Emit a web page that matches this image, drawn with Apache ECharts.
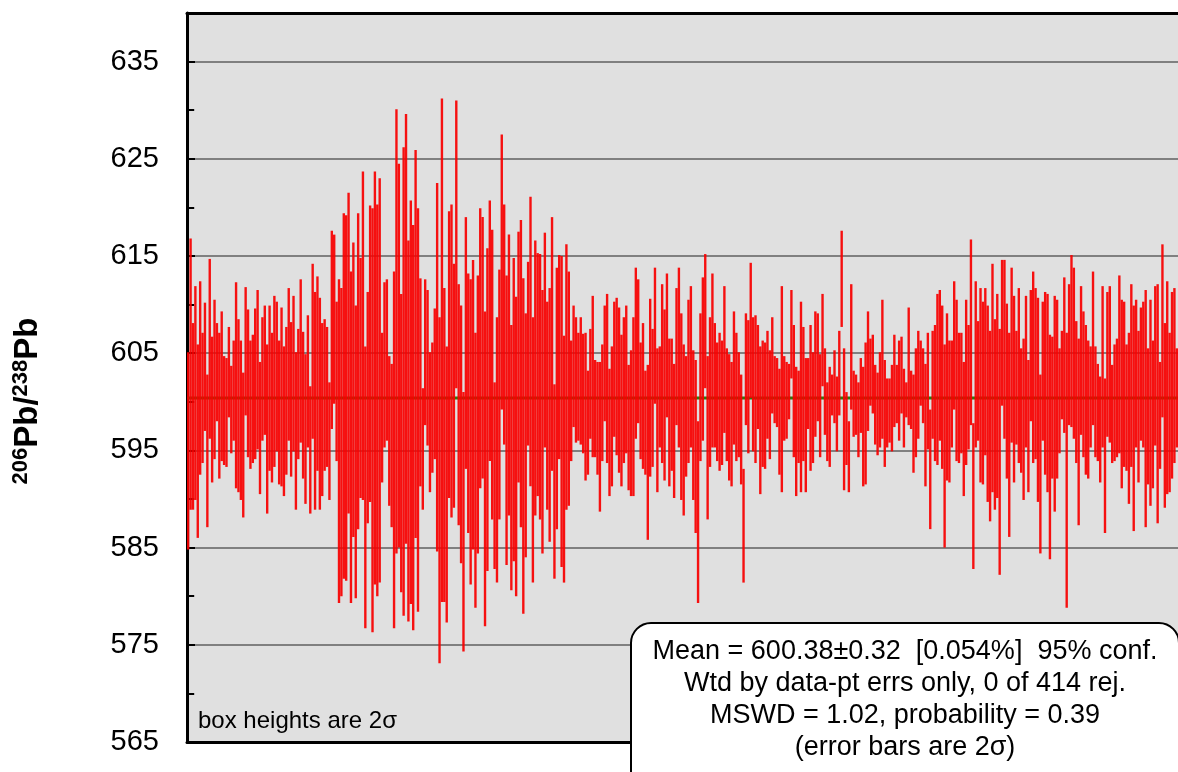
<!DOCTYPE html>
<html><head><meta charset="utf-8">
<script src="https://cdn.jsdelivr.net/npm/echarts/dist/echarts.min.js"></script>
<style>html,body{margin:0;padding:0;background:#fff}#chart{width:1178px;height:772px}</style>
</head><body><div id="chart"></div>
<script>
// Upper edge of each 2-sigma error box (206Pb/238Pb age, Ma)
const boxTop = [
605.1,616.8,608.1,611.9,605.9,612.4,607.1,610.2,602.8,614.7,
606.7,610.5,608.1,607.1,609.3,604.7,604.5,607.7,603.7,606.3,
612.3,608.5,606.3,603.0,611.8,609.5,606.3,606.9,609.6,611.5,
604.1,608.7,609.9,605.9,609.9,607.1,610.9,610.3,606.3,609.7,
605.7,607.7,611.7,608.2,610.9,605.1,607.5,612.6,607.2,604.9,
608.9,601.6,614.2,611.3,612.9,610.7,608.1,608.5,607.7,602.0,
617.6,617.2,610.3,612.6,611.7,619.4,619.2,621.5,613.4,616.4,
609.9,619.4,614.8,623.7,605.7,611.3,620.2,619.9,623.7,620.3,
623.0,607.1,
612.3,612.6,604.7,603.9,613.4,630.1,624.5,611.1,626.2,629.6,
616.6,620.7,618.2,625.9,619.9,612.7,601.4,612.6,611.5,605.1,
606.1,609.6,622.5,608.7,631.2,611.7,605.7,619.6,620.3,614.2,
631.0,612.1,609.9,601.0,619.0,613.2,612.6,614.6,607.1,613.0,
619.9,619.0,609.3,615.8,620.7,617.7,602.0,608.7,613.6,627.5,
620.3,613.0,617.2,607.9,614.8,610.8,617.5,618.7,612.7,609.1,
614.4,621.1,608.7,616.6,615.3,615.2,611.5,617.4,610.3,611.7,
619.0,601.8,613.8,615.1,615.0,606.8,616.2,613.4,606.3,609.9,
608.7,607.1,
608.7,607.0,607.1,603.2,607.5,610.9,604.3,604.1,604.1,605.9,
609.9,611.1,603.4,605.7,610.3,610.7,609.7,606.9,608.7,609.9,
603.8,605.3,608.7,613.8,612.6,606.1,608.1,603.2,603.8,610.6,
607.5,613.8,605.5,605.7,612.1,609.5,613.2,606.5,606.5,603.9,
611.7,613.8,609.1,605.9,604.7,610.5,611.9,605.3,604.3,598.0,
609.1,612.8,615.2,604.7,608.7,613.2,608.1,606.1,607.1,606.3,
611.9,605.5,604.9,604.1,609.3,607.1,605.1,602.8,593.1,609.1,
608.4,614.3,608.7,608.9,607.9,605.7,606.3,606.1,607.3,605.3,
608.7,604.7,604.5,603.4,
611.9,604.7,604.1,603.9,611.5,607.9,603.6,603.2,610.3,607.7,
604.5,604.5,607.9,605.1,609.3,609.1,604.9,611.1,605.5,602.0,
603.6,602.8,605.3,602.6,607.3,617.6,605.5,601.0,598.0,612.1,
603.2,602.8,602.0,604.5,603.6,606.1,609.3,606.5,606.9,603.8,
603.0,605.1,610.5,604.3,602.4,602.4,603.8,606.9,603.8,606.3,
606.7,603.4,602.0,609.7,603.2,602.8,605.5,607.3,606.3,605.5,
603.9,607.1,599.2,607.3,607.9,611.1,611.5,609.9,605.9,609.1,
606.3,606.3,612.4,610.5,607.1,607.1,604.1,610.5,607.9,616.7,
597.8,612.4,608.3,611.7,610.3,
611.7,609.9,607.3,614.2,608.5,611.1,607.5,614.6,614.6,610.1,
607.1,613.8,610.9,607.3,611.7,605.5,606.5,610.9,604.3,611.5,
613.4,611.7,610.7,602.8,610.3,611.3,611.1,606.9,606.7,610.9,
610.5,605.5,607.3,612.8,607.1,612.1,615.1,613.8,608.3,606.5,
611.9,609.3,607.9,606.3,605.7,613.4,605.7,603.9,602.6,611.9,
602.4,611.3,611.9,603.8,605.9,606.5,613.0,610.5,610.3,605.9,
607.1,612.1,609.9,610.5,607.3,609.7,610.3,611.5,605.5,610.5,
606.3,611.9,612.1,604.1,616.2,608.1,612.4,607.1,611.3,611.7,
605.5
];
// Lower edge of each 2-sigma error box
const boxBottom = [
584.8,588.9,588.9,589.9,586.0,592.5,593.7,597.0,587.1,596.2,
591.7,594.1,598.0,592.1,593.9,593.5,593.3,598.4,594.7,596.0,
591.1,590.7,589.9,588.1,598.6,594.3,593.1,593.7,594.1,595.1,
590.5,596.0,596.6,588.5,592.9,591.7,593.3,594.9,591.5,591.3,
590.3,592.5,596.0,592.3,594.9,588.9,594.1,595.8,592.1,589.5,
595.3,588.5,596.2,588.9,592.9,588.9,590.3,592.9,593.3,589.9,
597.2,599.8,593.9,579.3,580.0,581.8,581.6,588.5,579.3,586.1,
579.8,586.9,590.1,589.9,576.7,587.5,589.7,576.3,581.2,580.0,
581.4,591.7,
595.3,596.0,589.3,587.1,576.7,584.4,585.0,580.4,578.0,585.4,
577.4,579.2,576.5,586.0,578.4,591.3,588.9,597.6,595.5,590.7,
592.7,594.1,584.6,573.1,579.4,579.4,577.3,590.1,588.1,589.1,
601.4,587.3,583.4,574.3,593.1,586.5,581.2,584.8,578.8,584.4,
591.1,592.1,576.9,582.6,593.9,587.9,582.8,581.4,587.9,599.2,
595.6,583.2,588.3,580.6,583.6,580.0,591.7,587.1,578.2,584.0,
595.5,591.3,581.4,588.3,590.3,587.9,584.4,595.3,588.9,585.6,
592.9,581.8,586.9,594.1,583.0,581.4,588.9,589.3,593.9,597.4,
595.8,596.0,
595.6,594.7,591.9,592.5,596.2,594.3,594.3,592.5,588.7,593.9,
598.0,593.7,590.3,591.3,596.4,594.5,592.7,591.3,593.7,594.7,
590.9,590.3,590.3,596.2,597.8,594.1,593.1,592.5,585.8,592.3,
593.3,599.8,590.7,595.3,593.7,591.9,598.4,591.3,592.9,590.1,
597.6,595.3,589.9,588.3,592.3,593.7,595.3,589.9,586.5,579.3,
593.9,596.0,601.4,587.9,593.3,595.3,595.3,593.9,592.9,593.5,
596.8,593.9,591.9,591.3,595.6,593.9,594.3,591.5,581.4,597.6,
594.7,600.4,594.9,593.7,597.2,590.5,593.3,593.1,596.2,594.1,
598.8,597.8,597.4,592.5,
590.7,596.0,596.2,598.2,602.4,594.3,590.3,593.7,590.7,593.9,
590.7,597.2,592.9,593.7,596.4,598.0,594.3,601.6,596.6,593.9,
593.3,598.6,597.8,594.9,598.6,607.7,590.9,593.5,590.7,599.2,
596.4,596.6,594.3,596.8,591.3,591.5,597.0,599.6,598.8,595.6,
594.5,595.3,596.2,593.3,595.3,595.8,594.9,597.4,597.8,596.0,
598.8,595.3,598.4,597.6,597.2,592.7,594.3,596.2,599.6,597.8,
591.3,595.1,586.9,596.2,593.9,593.5,596.0,593.1,585.0,591.9,
591.7,595.3,599.2,593.9,593.7,594.7,590.3,593.5,595.1,597.6,
582.8,595.3,596.0,591.7,591.5,
594.5,589.7,587.7,590.7,588.9,590.1,582.2,599.6,596.2,592.1,
586.1,595.8,591.7,595.6,593.7,592.7,589.9,595.3,590.7,598.0,
593.7,594.1,589.7,584.4,596.0,592.5,590.7,583.8,592.1,588.7,
592.1,594.7,598.2,596.8,578.8,597.6,597.4,596.2,593.7,587.3,
596.6,594.3,592.5,592.1,595.3,597.6,594.3,593.9,591.7,595.3,
586.5,596.4,595.8,593.7,593.9,594.3,594.7,591.1,593.3,592.9,
589.5,593.3,586.7,595.3,591.7,596.0,595.3,587.1,591.5,589.3,
591.1,595.5,587.5,593.1,598.4,589.1,590.5,590.7,592.1,593.7,
595.3
];
const meanValue = 600.38;
const yTickLabels = [565, 575, 585, 595, 605, 615, 625, 635];
const statsLines = [
  'Mean = 600.38\u00B10.32  [0.054%]  95% conf.',
  'Wtd by data-pt errs only, 0 of 414 rej.',
  'MSWD = 1.02, probability = 0.39',
  '(error bars are 2\u03C3)'
];
const boxNote = 'box heights are 2\u03C3';
const yTitleParts = { iso1: '206', el1: 'Pb/', iso2: '238', el2: 'Pb' };

const FONT = "'Liberation Sans', Arial, Helvetica, sans-serif";
const n = boxTop.length;
const boxData = boxTop.map((t, i) => [i, boxBottom[i], t]);

const chart = echarts.init(document.getElementById('chart'), null, { renderer: 'canvas' });
const axisCommon = { min: 565, max: 640 };
chart.setOption({
  animation: false,
  backgroundColor: '#ffffff',
  grid: { left: 187, right: 0, top: 13, bottom: 30, show: true, backgroundColor: '#e0e0e0', borderWidth: 0 },
  xAxis: [
    { type: 'value', min: -0.5, max: n - 0.5, position: 'bottom',
      axisLine: { show: true, onZero: false, lineStyle: { color: '#000', width: 3 } },
      axisTick: { show: false }, axisLabel: { show: false }, splitLine: { show: false } },
    { type: 'value', min: -0.5, max: n - 0.5, position: 'top',
      axisLine: { show: true, onZero: false, lineStyle: { color: '#000', width: 3 } },
      axisTick: { show: false }, axisLabel: { show: false }, splitLine: { show: false } }
  ],
  yAxis: [
    Object.assign({ type: 'value', interval: 10, position: 'left',
      axisLine: { show: true, onZero: false, lineStyle: { color: '#000', width: 3 } },
      axisTick: { show: true, inside: true, length: 8, lineStyle: { color: '#000', width: 2 } },
      axisLabel: { show: true, margin: 28, fontSize: 29, color: '#000', fontFamily: FONT,
        formatter: v => (yTickLabels.indexOf(v) >= 0 ? String(v) : '') },
      splitLine: { show: true, lineStyle: { color: '#808080', width: 2 } } }, axisCommon),
    Object.assign({ type: 'value', interval: 5, position: 'left',
      axisLine: { show: false },
      axisTick: { show: true, inside: true, length: 6, lineStyle: { color: '#000', width: 2 } },
      axisLabel: { show: false }, splitLine: { show: false } }, axisCommon)
  ],
  series: [
    { type: 'line', xAxisIndex: 0, yAxisIndex: 0, symbol: 'none', silent: true,
      data: [[-0.5, meanValue], [n - 0.5, meanValue]],
      lineStyle: { color: '#2e7a10', width: 3 }, z: 1 },
    { type: 'custom', xAxisIndex: 0, yAxisIndex: 0, data: boxData, z: 3, clip: true,
      encode: { x: 0, y: [1, 2] },
      renderItem: function (params, api) {
        const i = api.value(0);
        const lo = api.coord([i, api.value(1)]);
        const hi = api.coord([i, api.value(2)]);
        const w = api.size([1, 0])[0] * 1.0;
        return { type: 'rect',
          shape: { x: lo[0] - w / 2, y: hi[1], width: w, height: lo[1] - hi[1] },
          style: { fill: '#f70000', opacity: 0.93 } };
      } }
  ],
  graphic: [
    { type: 'text', z: 50, x: 198, y: 721,
      style: { text: boxNote, fill: '#000', font: '24px ' + FONT, align: 'left', verticalAlign: 'middle' } },
    { type: 'rect', z: 100, shape: { x: 631, y: 623, width: 548, height: 200, r: 20 },
      style: { fill: '#ffffff', stroke: '#000', lineWidth: 2 } },
    { type: 'text', z: 101, x: 905, y: 636,
      style: { text: statsLines.join('\n'), fill: '#000', font: '27px ' + FONT, lineHeight: 32,
        align: 'center', verticalAlign: 'top' } },
    { type: 'text', z: 50, x: 28, y: 401, rotation: Math.PI / 2,
      style: {
        text: '{s|' + yTitleParts.iso1 + '}{b|' + yTitleParts.el1 + '}{s|' + yTitleParts.iso2 + '}{b|' + yTitleParts.el2 + '}',
        align: 'center', verticalAlign: 'middle', fill: '#000',
        rich: {
          b: { fontSize: 33, fontWeight: 'bold', fontFamily: FONT, lineHeight: 36, fill: '#000' },
          s: { fontSize: 22, fontWeight: 'bold', fontFamily: FONT, lineHeight: 23, verticalAlign: 'top', fill: '#000' }
        } } }
  ]
});
</script>
</body></html>
